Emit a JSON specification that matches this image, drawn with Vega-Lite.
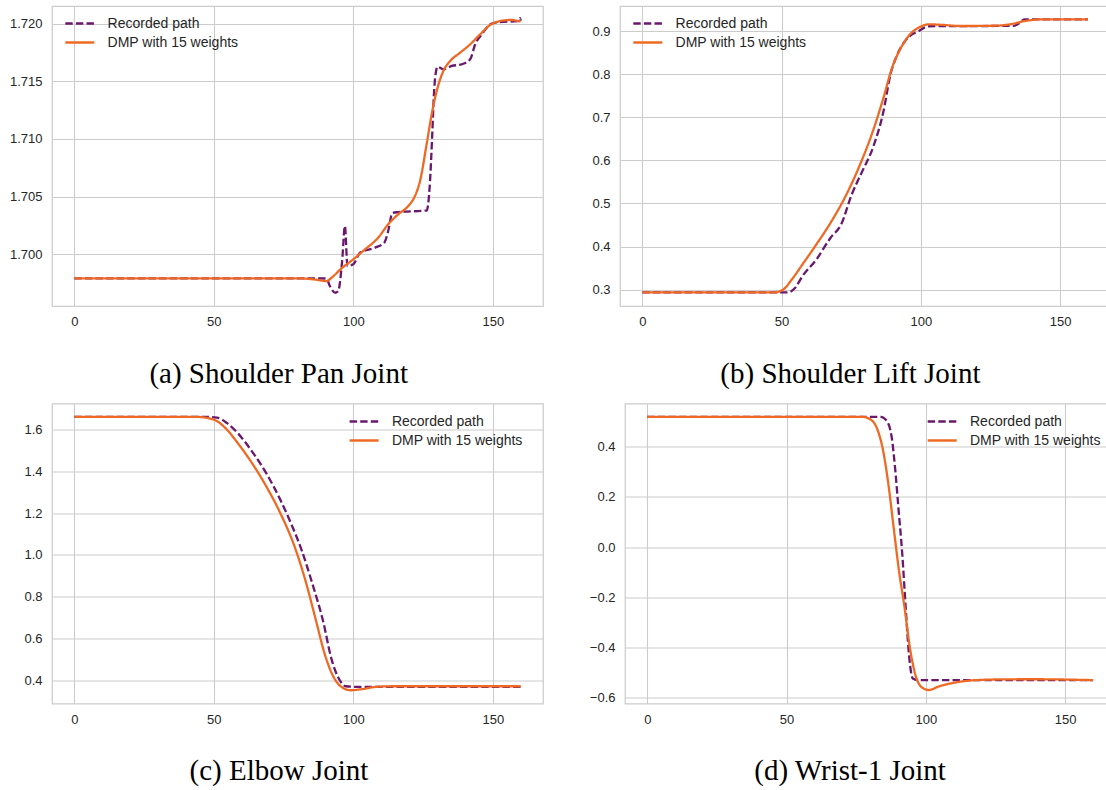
{
  "$schema": "https://vega.github.io/schema/vega-lite/v6.json",
  "background": "white",
  "padding": {"left": 8, "top": 5, "right": 0, "bottom": 0},
  "datasets": {
    "a": [
      {"t": 0, "v": 1.69792, "s": "Recorded path"},
      {"t": 85, "v": 1.69792, "s": "Recorded path"},
      {"t": 90.4, "v": 1.6979, "s": "Recorded path"},
      {"t": 91.5, "v": 1.6973, "s": "Recorded path"},
      {"t": 93.6, "v": 1.69667, "s": "Recorded path"},
      {"t": 94.6, "v": 1.69682, "s": "Recorded path"},
      {"t": 96.0, "v": 1.69942, "s": "Recorded path"},
      {"t": 97.0, "v": 1.70245, "s": "Recorded path"},
      {"t": 97.9, "v": 1.69899, "s": "Recorded path"},
      {"t": 100, "v": 1.69913, "s": "Recorded path"},
      {"t": 102.4, "v": 1.70014, "s": "Recorded path"},
      {"t": 107.8, "v": 1.70058, "s": "Recorded path"},
      {"t": 111.1, "v": 1.70101, "s": "Recorded path"},
      {"t": 112.5, "v": 1.70202, "s": "Recorded path"},
      {"t": 114, "v": 1.70358, "s": "Recorded path"},
      {"t": 116.1, "v": 1.70366, "s": "Recorded path"},
      {"t": 126.3, "v": 1.7038, "s": "Recorded path"},
      {"t": 127.5, "v": 1.70633, "s": "Recorded path"},
      {"t": 128.3, "v": 1.7104, "s": "Recorded path"},
      {"t": 128.9, "v": 1.71388, "s": "Recorded path"},
      {"t": 129.8, "v": 1.71604, "s": "Recorded path"},
      {"t": 130.2, "v": 1.71626, "s": "Recorded path"},
      {"t": 132.3, "v": 1.71604, "s": "Recorded path"},
      {"t": 135.3, "v": 1.71633, "s": "Recorded path"},
      {"t": 138.9, "v": 1.71648, "s": "Recorded path"},
      {"t": 141.9, "v": 1.71691, "s": "Recorded path"},
      {"t": 143.7, "v": 1.71821, "s": "Recorded path"},
      {"t": 146.1, "v": 1.71908, "s": "Recorded path"},
      {"t": 149.1, "v": 1.71994, "s": "Recorded path"},
      {"t": 152, "v": 1.72012, "s": "Recorded path"},
      {"t": 159.2, "v": 1.72023, "s": "Recorded path"},
      {"t": 159.8, "v": 1.72047, "s": "Recorded path"},
      {"t": 160, "v": 1.72025, "s": "Recorded path"},
      {"t": 0, "v": 1.69792, "s": "DMP with 15 weights"},
      {"t": 80.2, "v": 1.69792, "s": "DMP with 15 weights"},
      {"t": 86, "v": 1.69782, "s": "DMP with 15 weights"},
      {"t": 90.4, "v": 1.69768, "s": "DMP with 15 weights"},
      {"t": 92.2, "v": 1.69797, "s": "DMP with 15 weights"},
      {"t": 95.8, "v": 1.69879, "s": "DMP with 15 weights"},
      {"t": 100, "v": 1.69957, "s": "DMP with 15 weights"},
      {"t": 104.2, "v": 1.70043, "s": "DMP with 15 weights"},
      {"t": 108.9, "v": 1.70144, "s": "DMP with 15 weights"},
      {"t": 112.5, "v": 1.7026, "s": "DMP with 15 weights"},
      {"t": 116.1, "v": 1.70347, "s": "DMP with 15 weights"},
      {"t": 119.7, "v": 1.70419, "s": "DMP with 15 weights"},
      {"t": 122.1, "v": 1.70506, "s": "DMP with 15 weights"},
      {"t": 123.9, "v": 1.70633, "s": "DMP with 15 weights"},
      {"t": 126.3, "v": 1.70957, "s": "DMP with 15 weights"},
      {"t": 128.1, "v": 1.71214, "s": "DMP with 15 weights"},
      {"t": 129.9, "v": 1.71416, "s": "DMP with 15 weights"},
      {"t": 132.3, "v": 1.7159, "s": "DMP with 15 weights"},
      {"t": 134.7, "v": 1.71676, "s": "DMP with 15 weights"},
      {"t": 138.3, "v": 1.71748, "s": "DMP with 15 weights"},
      {"t": 141.9, "v": 1.71821, "s": "DMP with 15 weights"},
      {"t": 145.5, "v": 1.71908, "s": "DMP with 15 weights"},
      {"t": 149.1, "v": 1.71989, "s": "DMP with 15 weights"},
      {"t": 152.7, "v": 1.72023, "s": "DMP with 15 weights"},
      {"t": 156.3, "v": 1.72032, "s": "DMP with 15 weights"},
      {"t": 160, "v": 1.72017, "s": "DMP with 15 weights"}
    ],
    "b": [
      {"t": 0, "v": 0.2937, "s": "Recorded path"},
      {"t": 52.4, "v": 0.2937, "s": "Recorded path"},
      {"t": 54.9, "v": 0.3045, "s": "Recorded path"},
      {"t": 57.5, "v": 0.3316, "s": "Recorded path"},
      {"t": 62.5, "v": 0.37, "s": "Recorded path"},
      {"t": 67.6, "v": 0.4205, "s": "Recorded path"},
      {"t": 71.4, "v": 0.4514, "s": "Recorded path"},
      {"t": 75.2, "v": 0.521, "s": "Recorded path"},
      {"t": 79, "v": 0.575, "s": "Recorded path"},
      {"t": 82.8, "v": 0.6293, "s": "Recorded path"},
      {"t": 86.6, "v": 0.714, "s": "Recorded path"},
      {"t": 89.1, "v": 0.7995, "s": "Recorded path"},
      {"t": 91.6, "v": 0.8459, "s": "Recorded path"},
      {"t": 95.4, "v": 0.8845, "s": "Recorded path"},
      {"t": 99.2, "v": 0.9, "s": "Recorded path"},
      {"t": 103, "v": 0.911, "s": "Recorded path"},
      {"t": 120, "v": 0.9115, "s": "Recorded path"},
      {"t": 133.4, "v": 0.912, "s": "Recorded path"},
      {"t": 135.3, "v": 0.918, "s": "Recorded path"},
      {"t": 137.2, "v": 0.927, "s": "Recorded path"},
      {"t": 160, "v": 0.927, "s": "Recorded path"},
      {"t": 0, "v": 0.2937, "s": "DMP with 15 weights"},
      {"t": 47.3, "v": 0.2937, "s": "DMP with 15 weights"},
      {"t": 50.5, "v": 0.3, "s": "DMP with 15 weights"},
      {"t": 53.7, "v": 0.3238, "s": "DMP with 15 weights"},
      {"t": 57.5, "v": 0.3586, "s": "DMP with 15 weights"},
      {"t": 62.5, "v": 0.405, "s": "DMP with 15 weights"},
      {"t": 67.6, "v": 0.4553, "s": "DMP with 15 weights"},
      {"t": 72.7, "v": 0.5133, "s": "DMP with 15 weights"},
      {"t": 77.7, "v": 0.583, "s": "DMP with 15 weights"},
      {"t": 82.8, "v": 0.668, "s": "DMP with 15 weights"},
      {"t": 86.6, "v": 0.7453, "s": "DMP with 15 weights"},
      {"t": 89.7, "v": 0.815, "s": "DMP with 15 weights"},
      {"t": 92.9, "v": 0.8613, "s": "DMP with 15 weights"},
      {"t": 96.1, "v": 0.8923, "s": "DMP with 15 weights"},
      {"t": 99.2, "v": 0.9077, "s": "DMP with 15 weights"},
      {"t": 103, "v": 0.9155, "s": "DMP with 15 weights"},
      {"t": 108.1, "v": 0.914, "s": "DMP with 15 weights"},
      {"t": 114.4, "v": 0.9116, "s": "DMP with 15 weights"},
      {"t": 127, "v": 0.9124, "s": "DMP with 15 weights"},
      {"t": 132, "v": 0.9155, "s": "DMP with 15 weights"},
      {"t": 137.2, "v": 0.923, "s": "DMP with 15 weights"},
      {"t": 143.5, "v": 0.927, "s": "DMP with 15 weights"},
      {"t": 160, "v": 0.927, "s": "DMP with 15 weights"}
    ],
    "c": [
      {"t": 0, "v": 1.6606, "s": "Recorded path"},
      {"t": 47.3, "v": 1.6606, "s": "Recorded path"},
      {"t": 51.1, "v": 1.657, "s": "Recorded path"},
      {"t": 54.9, "v": 1.629, "s": "Recorded path"},
      {"t": 58.7, "v": 1.581, "s": "Recorded path"},
      {"t": 63.8, "v": 1.493, "s": "Recorded path"},
      {"t": 68.9, "v": 1.389, "s": "Recorded path"},
      {"t": 73.9, "v": 1.262, "s": "Recorded path"},
      {"t": 77.7, "v": 1.15, "s": "Recorded path"},
      {"t": 81.5, "v": 1.022, "s": "Recorded path"},
      {"t": 85.3, "v": 0.863, "s": "Recorded path"},
      {"t": 89.1, "v": 0.687, "s": "Recorded path"},
      {"t": 92.3, "v": 0.4958, "s": "Recorded path"},
      {"t": 94.8, "v": 0.408, "s": "Recorded path"},
      {"t": 97.3, "v": 0.371, "s": "Recorded path"},
      {"t": 101.8, "v": 0.368, "s": "Recorded path"},
      {"t": 160, "v": 0.368, "s": "Recorded path"},
      {"t": 0, "v": 1.6606, "s": "DMP with 15 weights"},
      {"t": 43.5, "v": 1.6606, "s": "DMP with 15 weights"},
      {"t": 49.9, "v": 1.648, "s": "DMP with 15 weights"},
      {"t": 53.7, "v": 1.613, "s": "DMP with 15 weights"},
      {"t": 58.7, "v": 1.533, "s": "DMP with 15 weights"},
      {"t": 63.8, "v": 1.437, "s": "DMP with 15 weights"},
      {"t": 68.9, "v": 1.3256, "s": "DMP with 15 weights"},
      {"t": 73.9, "v": 1.198, "s": "DMP with 15 weights"},
      {"t": 79, "v": 1.038, "s": "DMP with 15 weights"},
      {"t": 82.8, "v": 0.879, "s": "DMP with 15 weights"},
      {"t": 86.6, "v": 0.687, "s": "DMP with 15 weights"},
      {"t": 89.7, "v": 0.528, "s": "DMP with 15 weights"},
      {"t": 92.9, "v": 0.416, "s": "DMP with 15 weights"},
      {"t": 96.1, "v": 0.365, "s": "DMP with 15 weights"},
      {"t": 99.2, "v": 0.352, "s": "DMP with 15 weights"},
      {"t": 103, "v": 0.357, "s": "DMP with 15 weights"},
      {"t": 108.1, "v": 0.368, "s": "DMP with 15 weights"},
      {"t": 114.4, "v": 0.371, "s": "DMP with 15 weights"},
      {"t": 160, "v": 0.371, "s": "DMP with 15 weights"}
    ],
    "d": [
      {"t": 0, "v": 0.5195, "s": "Recorded path"},
      {"t": 83.8, "v": 0.5195, "s": "Recorded path"},
      {"t": 85.8, "v": 0.506, "s": "Recorded path"},
      {"t": 87.7, "v": 0.44, "s": "Recorded path"},
      {"t": 88.9, "v": 0.32, "s": "Recorded path"},
      {"t": 90.2, "v": 0.148, "s": "Recorded path"},
      {"t": 91.5, "v": -0.025, "s": "Recorded path"},
      {"t": 92.8, "v": -0.251, "s": "Recorded path"},
      {"t": 94, "v": -0.437, "s": "Recorded path"},
      {"t": 95.3, "v": -0.523, "s": "Recorded path"},
      {"t": 97.2, "v": -0.5296, "s": "Recorded path"},
      {"t": 160, "v": -0.5296, "s": "Recorded path"},
      {"t": 0, "v": 0.5195, "s": "DMP with 15 weights"},
      {"t": 77, "v": 0.5195, "s": "DMP with 15 weights"},
      {"t": 80.1, "v": 0.509, "s": "DMP with 15 weights"},
      {"t": 82.7, "v": 0.466, "s": "DMP with 15 weights"},
      {"t": 84.6, "v": 0.387, "s": "DMP with 15 weights"},
      {"t": 86.5, "v": 0.254, "s": "DMP with 15 weights"},
      {"t": 88.4, "v": 0.081, "s": "DMP with 15 weights"},
      {"t": 90.3, "v": -0.091, "s": "DMP with 15 weights"},
      {"t": 92.3, "v": -0.237, "s": "DMP with 15 weights"},
      {"t": 94.2, "v": -0.397, "s": "DMP with 15 weights"},
      {"t": 96.1, "v": -0.503, "s": "DMP with 15 weights"},
      {"t": 98.6, "v": -0.559, "s": "DMP with 15 weights"},
      {"t": 101.1, "v": -0.569, "s": "DMP with 15 weights"},
      {"t": 104.3, "v": -0.556, "s": "DMP with 15 weights"},
      {"t": 108.8, "v": -0.543, "s": "DMP with 15 weights"},
      {"t": 115.1, "v": -0.532, "s": "DMP with 15 weights"},
      {"t": 125.3, "v": -0.527, "s": "DMP with 15 weights"},
      {"t": 138, "v": -0.526, "s": "DMP with 15 weights"},
      {"t": 160, "v": -0.5296, "s": "DMP with 15 weights"}
    ]
  },
  "columns": 2,
  "align": "none",
  "spacing": {"row": 13.5, "column": 20},
  "resolve": {"scale": {"color": "independent", "strokeDash": "independent"}},
  "concat": [
    {
      "width": 491, "height": 300,
      "data": {"name": "a"},
      "encoding": {
        "x": {"field": "t", "type": "quantitative", "scale": {"domain": [-8, 168], "nice": false, "zero": false},
              "axis": {"values": [0, 50, 100, 150], "title": "(a) Shoulder Pan Joint", "titleX": 226.2}},
        "y": {"field": "v", "type": "quantitative", "scale": {"domain": [1.69552, 1.72153], "nice": false, "zero": false},
              "axis": {"values": [1.7, 1.705, 1.71, 1.715, 1.72], "format": ".3f", "title": null, "minExtent": 42.5}},
        "color": {"field": "s", "type": "nominal", "scale": {"domain": ["Recorded path", "DMP with 15 weights"], "range": ["#6a176e", "#ee6a24"]},
                  "legend": {"orient": "top-left", "title": null, "symbolType": "M-2,0H2", "symbolSize": 210, "symbolStrokeWidth": 2.3}},
        "strokeDash": {"field": "s", "type": "nominal", "scale": {"domain": ["Recorded path", "DMP with 15 weights"], "range": [[7.4, 3.2], [1, 0]]},
                  "legend": {"orient": "top-left", "title": null, "symbolType": "M-2,0H2", "symbolSize": 210, "symbolStrokeWidth": 2.3}}
      },
      "layer": [
        {"transform": [{"filter": "datum.s == 'Recorded path'"}], "mark": {"type": "line", "interpolate": "monotone", "strokeWidth": 2.3}},
        {"transform": [{"filter": "datum.s == 'DMP with 15 weights'"}], "mark": {"type": "line", "interpolate": "monotone", "strokeWidth": 2.3}}
      ]
    },
    {
      "width": 488, "height": 300,
      "data": {"name": "b"},
      "encoding": {
        "x": {"field": "t", "type": "quantitative", "scale": {"domain": [-8, 167.2], "nice": false, "zero": false},
              "axis": {"values": [0, 50, 100, 150], "title": "(b) Shoulder Lift Joint", "titleX": 229.9}},
        "y": {"field": "v", "type": "quantitative", "scale": {"domain": [0.2622, 0.958], "nice": false, "zero": false},
              "axis": {"values": [0.3, 0.4, 0.5, 0.6, 0.7, 0.8, 0.9], "format": ".1f", "title": null, "minExtent": 54.8}},
        "color": {"field": "s", "type": "nominal", "scale": {"domain": ["Recorded path", "DMP with 15 weights"], "range": ["#6a176e", "#ee6a24"]},
                  "legend": {"orient": "top-left", "title": null, "symbolType": "M-2,0H2", "symbolSize": 210, "symbolStrokeWidth": 2.3}},
        "strokeDash": {"field": "s", "type": "nominal", "scale": {"domain": ["Recorded path", "DMP with 15 weights"], "range": [[7.4, 3.2], [1, 0]]},
                  "legend": {"orient": "top-left", "title": null, "symbolType": "M-2,0H2", "symbolSize": 210, "symbolStrokeWidth": 2.3}}
      },
      "layer": [
        {"transform": [{"filter": "datum.s == 'Recorded path'"}], "mark": {"type": "line", "interpolate": "monotone", "strokeWidth": 2.3}},
        {"transform": [{"filter": "datum.s == 'DMP with 15 weights'"}], "mark": {"type": "line", "interpolate": "monotone", "strokeWidth": 2.3}}
      ]
    },
    {
      "width": 491, "height": 300,
      "data": {"name": "c"},
      "encoding": {
        "x": {"field": "t", "type": "quantitative", "scale": {"domain": [-8, 168], "nice": false, "zero": false},
              "axis": {"values": [0, 50, 100, 150], "title": "(c) Elbow Joint", "titleX": 226.5}},
        "y": {"field": "v", "type": "quantitative", "scale": {"domain": [0.2885, 1.7245], "nice": false, "zero": false},
              "axis": {"values": [0.4, 0.6, 0.8, 1.0, 1.2, 1.4, 1.6], "format": ".1f", "title": null, "minExtent": 42.5}},
        "color": {"field": "s", "type": "nominal", "scale": {"domain": ["Recorded path", "DMP with 15 weights"], "range": ["#6a176e", "#ee6a24"]},
                  "legend": {"orient": "none", "legendX": 293.3, "legendY": 9.5, "title": null, "symbolType": "M-2,0H2", "symbolSize": 210, "symbolStrokeWidth": 2.3}},
        "strokeDash": {"field": "s", "type": "nominal", "scale": {"domain": ["Recorded path", "DMP with 15 weights"], "range": [[7.4, 3.2], [1, 0]]},
                  "legend": {"orient": "none", "legendX": 293.3, "legendY": 9.5, "title": null, "symbolType": "M-2,0H2", "symbolSize": 210, "symbolStrokeWidth": 2.3}}
      },
      "layer": [
        {"transform": [{"filter": "datum.s == 'Recorded path'"}], "mark": {"type": "line", "interpolate": "monotone", "strokeWidth": 2.3}},
        {"transform": [{"filter": "datum.s == 'DMP with 15 weights'"}], "mark": {"type": "line", "interpolate": "monotone", "strokeWidth": 2.3}}
      ]
    },
    {
      "width": 482, "height": 300,
      "data": {"name": "d"},
      "encoding": {
        "x": {"field": "t", "type": "quantitative", "scale": {"domain": [-8, 165], "nice": false, "zero": false},
              "axis": {"values": [0, 50, 100, 150], "title": "(d) Wrist-1 Joint", "titleX": 224.6}},
        "y": {"field": "v", "type": "quantitative", "scale": {"domain": [-0.6227, 0.5725], "nice": false, "zero": false},
              "axis": {"values": [-0.6, -0.4, -0.2, 0, 0.2, 0.4], "format": ".1f", "title": null, "minExtent": 60.2}},
        "color": {"field": "s", "type": "nominal", "scale": {"domain": ["Recorded path", "DMP with 15 weights"], "range": ["#6a176e", "#ee6a24"]},
                  "legend": {"orient": "none", "legendX": 298.4, "legendY": 9.5, "title": null, "symbolType": "M-2,0H2", "symbolSize": 210, "symbolStrokeWidth": 2.3}},
        "strokeDash": {"field": "s", "type": "nominal", "scale": {"domain": ["Recorded path", "DMP with 15 weights"], "range": [[7.4, 3.2], [1, 0]]},
                  "legend": {"orient": "none", "legendX": 298.4, "legendY": 9.5, "title": null, "symbolType": "M-2,0H2", "symbolSize": 210, "symbolStrokeWidth": 2.3}}
      },
      "layer": [
        {"transform": [{"filter": "datum.s == 'Recorded path'"}], "mark": {"type": "line", "interpolate": "monotone", "strokeWidth": 2.3}},
        {"transform": [{"filter": "datum.s == 'DMP with 15 weights'"}], "mark": {"type": "line", "interpolate": "monotone", "strokeWidth": 2.3}}
      ]
    }
  ],
  "config": {
    "view": {"stroke": "#cccccc", "strokeWidth": 1.25},
    "axis": {
      "domain": false, "ticks": false, "tickSize": 0,
      "grid": true, "gridColor": "#cccccc", "gridWidth": 1.1,
      "labelFont": "Liberation Sans", "labelFontSize": 13, "labelColor": "#262626", "labelPadding": 9.5,
      "titleFont": "Liberation Serif", "titleFontSize": 29, "titleFontWeight": "normal", "titleColor": "#000000", "titlePadding": 30.5
    },
    "axisY": {"labelPadding": 10},
    "legend": {
      "offset": 9.2, "padding": 0, "symbolOffset": 10.3, "labelOffset": 19.3, "rowPadding": 3,
      "labelFont": "Liberation Sans", "labelFontSize": 14, "labelColor": "#262626", "symbolFillColor": "transparent"
    }
  }
}
